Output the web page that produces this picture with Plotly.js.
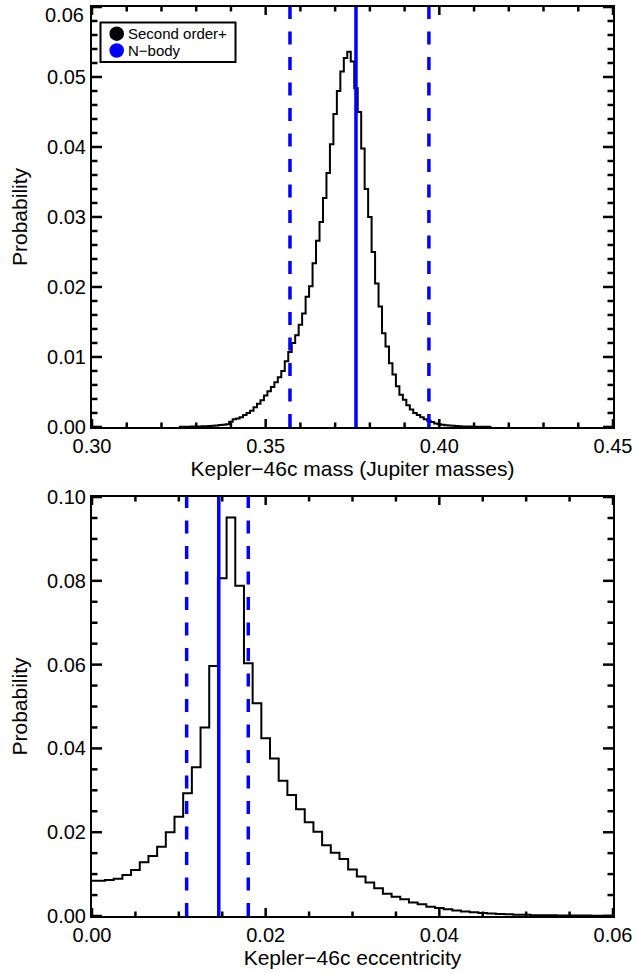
<!DOCTYPE html>
<html>
<head>
<meta charset="utf-8">
<script src="https://cdn.plot.ly/plotly-3.0.1.min.js"></script>
<style>
  html, body { margin: 0; padding: 0; background: #fff; }
  #chart { width: 637px; height: 973px; }
</style>
</head>
<body>
<div id="chart"></div>
<script>
// ---- Top panel: Kepler-46c mass histogram (bin centres, probability) ----
const massBins = [0.325,0.326,0.327,0.328,0.329,0.330,0.331,0.332,0.333,0.334,
  0.335,0.336,0.337,0.338,0.339,0.340,0.341,0.342,0.343,0.344,
  0.345,0.346,0.347,0.348,0.349,0.350,0.351,0.352,0.353,0.354,
  0.355,0.356,0.357,0.358,0.359,0.360,0.361,0.362,0.363,0.364,
  0.365,0.366,0.367,0.368,0.369,0.370,0.371,0.372,0.373,0.374,
  0.375,0.376,0.377,0.378,0.379,0.380,0.381,0.382,0.383,0.384,
  0.385,0.386,0.387,0.388,0.389,0.390,0.391,0.392,0.393,0.394,
  0.395,0.396,0.397,0.398,0.399,0.400,0.401,0.402,0.403,0.404,
  0.405,0.406,0.407,0.408,0.409,0.410,0.411,0.412,0.413,0.414,0.415];
const massProb = [0.00002,0.00002,0.00003,0.00004,0.00005,0.00006,0.00007,0.00009,0.00011,0.00014,
  0.00018,0.00022,0.00027,0.00033,0.00040,0.00076,0.0011,0.0012,0.0014,0.0017,
  0.0020,0.0023,0.0028,0.0033,0.0038,0.0045,0.0051,0.0057,0.0064,0.0071,
  0.0080,0.0094,0.0107,0.0120,0.0131,0.0146,0.0162,0.0186,0.0201,0.0234,
  0.0266,0.0293,0.0327,0.0363,0.0404,0.0447,0.0480,0.0508,0.0527,0.0536,
  0.0522,0.0484,0.0450,0.0398,0.0340,0.0300,0.0250,0.0205,0.0172,0.0134,
  0.0115,0.0091,0.0075,0.0058,0.0046,0.0039,0.0031,0.0025,0.0020,0.0017,
  0.0014,0.0011,0.0009,0.0007,0.0005,0.0004,0.0003,0.00025,0.0002,0.00016,
  0.00013,0.0001,0.00008,0.00006,0.00005,0.00004,0.00003,0.00003,0.00002,0.00002,0.00001];
const massNbodyMedian = [0.376];
const massNbodyBounds = [0.357, 0.397];

// ---- Bottom panel: Kepler-46c eccentricity histogram ----
const eccBins = [0.000,0.001,0.002,0.003,0.004,0.005,0.006,0.007,0.008,0.009,
  0.010,0.011,0.012,0.013,0.014,0.015,0.016,0.017,0.018,0.019,
  0.020,0.021,0.022,0.023,0.024,0.025,0.026,0.027,0.028,0.029,
  0.030,0.031,0.032,0.033,0.034,0.035,0.036,0.037,0.038,0.039,
  0.040,0.041,0.042,0.043,0.044,0.045,0.046,0.047,0.048,0.049,
  0.050,0.051,0.052,0.053,0.054,0.055,0.056,0.057,0.058,0.059,0.060];
const eccProb = [0.0084,0.0084,0.0086,0.0089,0.0098,0.0110,0.0128,0.0143,0.0165,0.0200,
  0.0237,0.0293,0.0355,0.0450,0.0597,0.0806,0.0951,0.0788,0.0603,0.0508,
  0.0424,0.0376,0.0323,0.0289,0.0255,0.0224,0.0201,0.0169,0.0151,0.0136,
  0.0111,0.0094,0.0080,0.0066,0.0053,0.0046,0.0040,0.0032,0.0028,0.0022,
  0.0019,0.0016,0.0013,0.0011,0.0009,0.0007,0.0006,0.0005,0.0004,0.0003,
  0.0003,0.0002,0.0002,0.0002,0.0001,0.0001,0.0001,0.0001,0.00005,0.00005,0.00005];
const eccNbodyMedian = [0.0146];
const eccNbodyBounds = [0.0109, 0.0180];

// ---- Tick labels ----
const massTickVals = [0.30, 0.35, 0.40, 0.45];
const massTickText = ['0.30', '0.35', '0.40', '0.45'];
const probTopTickVals = [0.00, 0.01, 0.02, 0.03, 0.04, 0.05];
const probTopTickText = ['0.00', '0.01', '0.02', '0.03', '0.04', '0.05'];
const probTopLastLabel = '0.06';
const eccTickVals = [0.00, 0.02, 0.04, 0.06];
const eccTickText = ['0.00', '0.02', '0.04', '0.06'];
const probBotTickVals = [0.00, 0.02, 0.04, 0.06, 0.08, 0.10];
const probBotTickText = ['0.00', '0.02', '0.04', '0.06', '0.08', '0.10'];

// ---- Text ----
const legendNames = ['Second order+', 'N\u2212body'];
const legendColors = ['#000000', '#0000ff'];
const xTitleTop = 'Kepler\u221246c mass (Jupiter masses)';
const xTitleBottom = 'Kepler\u221246c eccentricity';
const yTitle = 'Probability';

const FONT = 'Liberation Sans, Arial, Helvetica, sans-serif';
const BLUE = '#0000ff';

const ML = 92, MR = 24, MT = 7, MB = 57, W = 637, H = 973;
const PW = W - ML - MR, PH = H - MT - MB;
const px2x = p => (p - ML) / PW;
const py2y = p => 1 - (p - MT) / PH;

const domTop = [0.5380, 1], domBot = [0, 0.4609];
const EPS = 1e-7;
const massRange = [0.30, 0.45 + EPS], probRangeTop = [0, 0.06 + EPS];
const eccRange = [0, 0.06 + EPS], probRangeBot = [0, 0.10 + EPS];

const traces = [
  {x: massBins, y: massProb, xaxis: 'x', yaxis: 'y', type: 'scatter', mode: 'lines',
   line: {shape: 'hvh', color: '#000', width: 2}, showlegend: false, hoverinfo: 'skip'},
  {x: eccBins, y: eccProb, xaxis: 'x2', yaxis: 'y2', type: 'scatter', mode: 'lines',
   line: {shape: 'hvh', color: '#000', width: 2}, showlegend: false, hoverinfo: 'skip'}
];

// Inside tick marks on all four sides: one line trace per panel, segments split by gaps
function tickValues(lo, hi, step) {
  const out = [];
  const n = Math.round((hi - lo) / step + 1e-6);
  for (let k = 0; k <= n; k++) out.push(+(lo + k * step).toFixed(6));
  return out;
}
function tickTrace(xa, ya, xr, yr, dom, xMaj, xMin, yMaj, yMin) {
  const hPx = (dom[1] - dom[0]) * PH;
  const yPerPx = (yr[1] - yr[0]) / hPx, xPerPx = (xr[1] - xr[0]) / PW;
  const xM = tickValues(xr[0], xr[1] - EPS, xMaj);
  const xm = tickValues(xr[0], xr[1] - EPS, xMin).filter(v => !xM.some(m => Math.abs(m - v) < 1e-9));
  const yM = tickValues(yr[0], yr[1] - EPS, yMaj);
  const ym = tickValues(yr[0], yr[1] - EPS, yMin).filter(v => !yM.some(m => Math.abs(m - v) < 1e-9));
  const xs = [], ys = [];
  const seg = (x0, y0, x1, y1) => { xs.push(x0, x1, null); ys.push(y0, y1, null); };
  const xt = (v, len) => {
    const d = len * yPerPx;
    seg(v, yr[0], v, yr[0] + d);
    seg(v, yr[1], v, yr[1] - d);
  };
  const yt = (v, len) => {
    const d = len * xPerPx;
    seg(xr[0], v, xr[0] + d, v);
    seg(xr[1], v, xr[1] - d, v);
  };
  xM.forEach(v => xt(v, 8));
  xm.forEach(v => xt(v, 4.5));
  yM.forEach(v => yt(v, 10));
  ym.forEach(v => yt(v, 5.5));
  return {x: xs, y: ys, xaxis: xa, yaxis: ya, type: 'scatter', mode: 'lines', connectgaps: false,
          line: {color: '#000', width: 2.5}, showlegend: false, hoverinfo: 'skip'};
}
traces.push(tickTrace('x', 'y', massRange, probRangeTop, domTop, 0.05, 0.01, 0.01, 0.002));
traces.push(tickTrace('x2', 'y2', eccRange, probRangeBot, domBot, 0.02, 0.005, 0.02, 0.005));

function vline(xref, yref, v, dashed) {
  return {type: 'line', xref: xref, yref: yref + ' domain', x0: v, x1: v, y0: 0, y1: 1,
          line: {color: BLUE, width: 3.5, dash: dashed ? '13px,12.5px' : 'solid'}, layer: 'above'};
}
const shapes = [
  vline('x', 'y', massNbodyMedian[0], false),
  vline('x', 'y', massNbodyBounds[0], true),
  vline('x', 'y', massNbodyBounds[1], true),
  vline('x2', 'y2', eccNbodyMedian[0], false),
  vline('x2', 'y2', eccNbodyBounds[0], true),
  vline('x2', 'y2', eccNbodyBounds[1], true)
];

// Legend (box, filled circles and labels) in the top panel
shapes.push({type: 'rect', xref: 'paper', yref: 'paper', x0: px2x(100.5), x1: px2x(235.5), y0: py2y(62), y1: py2y(22.5),
   line: {color: '#000', width: 2}, fillcolor: '#fff', layer: 'above'});
const annotations = [];
const legendRowsY = [33.7, 50.5];
legendNames.forEach((nm, i) => {
  shapes.push({type: 'circle', xref: 'paper', yref: 'paper', xsizemode: 'pixel', ysizemode: 'pixel',
    xanchor: px2x(116.7), yanchor: py2y(legendRowsY[i]), x0: -7.3, x1: 7.3, y0: -7.3, y1: 7.3,
    fillcolor: legendColors[i], line: {width: 0}, layer: 'above'});
  annotations.push({xref: 'paper', yref: 'paper', x: px2x(125.5), y: py2y(legendRowsY[i]),
    xanchor: 'left', yanchor: 'middle', showarrow: false, text: nm,
    font: {family: FONT, size: 15, color: '#000'}});
});
annotations.push({xref: 'paper', yref: 'paper', x: px2x(86), y: py2y(15), xanchor: 'right', yanchor: 'middle',
  showarrow: false, text: probTopLastLabel, font: {family: FONT, size: 20, color: '#000'}});

function xax(range, tv, tt, title, anchor) {
  return {
    domain: [0, 1], anchor: anchor, range: range, autorange: false,
    tickmode: 'array', tickvals: tv, ticktext: tt, ticks: '',
    showline: true, linewidth: 2, linecolor: '#000', mirror: true,
    showgrid: false, zeroline: false,
    tickfont: {family: FONT, size: 20, color: '#000'},
    title: {text: title, font: {family: FONT, size: 21, color: '#000'}, standoff: 5}
  };
}
function yax(domain, range, tv, tt, anchor) {
  return {
    domain: domain, anchor: anchor, range: range, autorange: false,
    tickmode: 'array', tickvals: tv, ticktext: tt, ticks: '',
    showline: true, linewidth: 2, linecolor: '#000', mirror: true,
    showgrid: false, zeroline: false,
    tickfont: {family: FONT, size: 20, color: '#000'},
    title: {text: yTitle, font: {family: FONT, size: 21, color: '#000'}, standoff: 14}
  };
}

const layout = {
  width: W, height: H,
  margin: {l: ML, r: MR, t: MT, b: MB},
  paper_bgcolor: '#fff', plot_bgcolor: '#fff',
  font: {family: FONT, color: '#000'},
  xaxis: xax(massRange, massTickVals, massTickText, xTitleTop, 'y'),
  yaxis: yax(domTop, probRangeTop, probTopTickVals, probTopTickText, 'x'),
  xaxis2: xax(eccRange, eccTickVals, eccTickText, xTitleBottom, 'y2'),
  yaxis2: yax(domBot, probRangeBot, probBotTickVals, probBotTickText, 'x2'),
  shapes: shapes,
  annotations: annotations,
  showlegend: false
};

Plotly.newPlot('chart', traces, layout, {displayModeBar: false});
</script>
</body>
</html>
